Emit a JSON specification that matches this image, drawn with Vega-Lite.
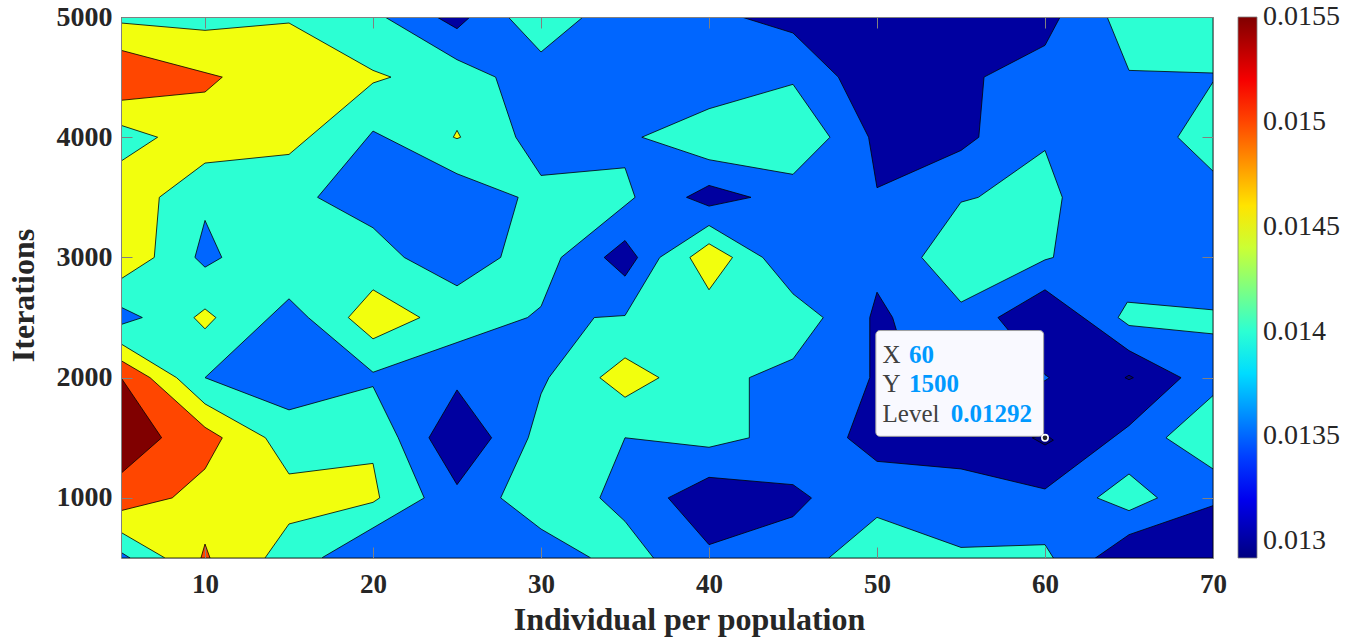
{
  "$schema": "https://vega.github.io/schema/vega-lite/v6.json",
  "width": 1092,
  "height": 541,
  "autosize": {"type": "none"},
  "padding": {"left": 121, "top": 17, "right": 145, "bottom": 83},
  "background": "white",
  "config": {"view": {"stroke": null}, "axis": {"grid": false}},
  "datasets": {
    "contours": [
      {"p":0,"lvl":0.0135,"kind":"band","k":0,"x":5,"y":500},{"p":0,"lvl":0.0135,"kind":"band","k":1,"x":70,"y":500},{"p":0,"lvl":0.0135,"kind":"band","k":2,"x":70,"y":5000},{"p":0,"lvl":0.0135,"kind":"band","k":3,"x":5,"y":5000},{"p":0,"lvl":0.0135,"kind":"band","k":4,"x":5,"y":500},

      {"p":1,"lvl":0.013,"kind":"band","k":0,"x":23.8,"y":5000},{"p":1,"lvl":0.013,"kind":"band","k":1,"x":25,"y":4903},{"p":1,"lvl":0.013,"kind":"band","k":2,"x":25.77,"y":5000},{"p":1,"lvl":0.013,"kind":"band","k":3,"x":23.8,"y":5000},

      {"p":2,"lvl":0.013,"kind":"band","k":0,"x":41.94,"y":5000},{"p":2,"lvl":0.013,"kind":"band","k":1,"x":45,"y":4867},{"p":2,"lvl":0.013,"kind":"band","k":2,"x":47.7,"y":4500},{"p":2,"lvl":0.013,"kind":"band","k":3,"x":49.5,"y":4000},{"p":2,"lvl":0.013,"kind":"band","k":4,"x":50,"y":3580},{"p":2,"lvl":0.013,"kind":"band","k":5,"x":55,"y":3890},{"p":2,"lvl":0.013,"kind":"band","k":6,"x":56.06,"y":4000},{"p":2,"lvl":0.013,"kind":"band","k":7,"x":56.37,"y":4500},{"p":2,"lvl":0.013,"kind":"band","k":8,"x":60,"y":4764},{"p":2,"lvl":0.013,"kind":"band","k":9,"x":60.9,"y":5000},{"p":2,"lvl":0.013,"kind":"band","k":10,"x":41.94,"y":5000},

      {"p":3,"lvl":0.013,"kind":"band","k":0,"x":38.66,"y":3500},{"p":3,"lvl":0.013,"kind":"band","k":1,"x":40,"y":3599},{"p":3,"lvl":0.013,"kind":"band","k":2,"x":42.5,"y":3500},{"p":3,"lvl":0.013,"kind":"band","k":3,"x":40,"y":3427},{"p":3,"lvl":0.013,"kind":"band","k":4,"x":38.66,"y":3500},

      {"p":4,"lvl":0.013,"kind":"band","k":0,"x":33.76,"y":3000},{"p":4,"lvl":0.013,"kind":"band","k":1,"x":35,"y":3141},{"p":4,"lvl":0.013,"kind":"band","k":2,"x":35.75,"y":3000},{"p":4,"lvl":0.013,"kind":"band","k":3,"x":35,"y":2844},{"p":4,"lvl":0.013,"kind":"band","k":4,"x":33.76,"y":3000},

      {"p":5,"lvl":0.013,"kind":"band","k":0,"x":25,"y":1898},{"p":5,"lvl":0.013,"kind":"band","k":1,"x":27.06,"y":1500},{"p":5,"lvl":0.013,"kind":"band","k":2,"x":25,"y":1110},{"p":5,"lvl":0.013,"kind":"band","k":3,"x":23.33,"y":1500},{"p":5,"lvl":0.013,"kind":"band","k":4,"x":25,"y":1898},

      {"p":6,"lvl":0.013,"kind":"band","k":0,"x":37.57,"y":1000},{"p":6,"lvl":0.013,"kind":"band","k":1,"x":40,"y":1171},{"p":6,"lvl":0.013,"kind":"band","k":2,"x":45,"y":1110},{"p":6,"lvl":0.013,"kind":"band","k":3,"x":46.1,"y":1000},{"p":6,"lvl":0.013,"kind":"band","k":4,"x":45,"y":844},{"p":6,"lvl":0.013,"kind":"band","k":5,"x":40,"y":611},{"p":6,"lvl":0.013,"kind":"band","k":6,"x":37.57,"y":1000},

      {"p":7,"lvl":0.013,"kind":"band","k":0,"x":63,"y":500},{"p":7,"lvl":0.013,"kind":"band","k":1,"x":65,"y":694},{"p":7,"lvl":0.013,"kind":"band","k":2,"x":70,"y":935},{"p":7,"lvl":0.013,"kind":"band","k":3,"x":70,"y":500},{"p":7,"lvl":0.013,"kind":"band","k":4,"x":63,"y":500},

      {"p":8,"lvl":0.013,"kind":"band","k":0,"x":50,"y":2711},{"p":8,"lvl":0.013,"kind":"band","k":1,"x":50.93,"y":2500},{"p":8,"lvl":0.013,"kind":"band","k":2,"x":52,"y":2000},{"p":8,"lvl":0.013,"kind":"band","k":3,"x":55,"y":1800},{"p":8,"lvl":0.013,"kind":"band","k":4,"x":60,"y":1975},{"p":8,"lvl":0.013,"kind":"band","k":5,"x":60.26,"y":2000},{"p":8,"lvl":0.013,"kind":"band","k":6,"x":60,"y":2025},{"p":8,"lvl":0.013,"kind":"band","k":7,"x":57.2,"y":2500},{"p":8,"lvl":0.013,"kind":"band","k":8,"x":60,"y":2731},{"p":8,"lvl":0.013,"kind":"band","k":9,"x":65,"y":2225},{"p":8,"lvl":0.013,"kind":"band","k":10,"x":68.1,"y":2000},{"p":8,"lvl":0.013,"kind":"band","k":11,"x":65,"y":1601},{"p":8,"lvl":0.013,"kind":"band","k":12,"x":60,"y":1074},{"p":8,"lvl":0.013,"kind":"band","k":13,"x":55,"y":1241},{"p":8,"lvl":0.013,"kind":"band","k":14,"x":50,"y":1304},{"p":8,"lvl":0.013,"kind":"band","k":15,"x":48.24,"y":1500},{"p":8,"lvl":0.013,"kind":"band","k":16,"x":49.57,"y":2000},{"p":8,"lvl":0.013,"kind":"band","k":17,"x":49.57,"y":2500},{"p":8,"lvl":0.013,"kind":"band","k":18,"x":50,"y":2711},

      {"p":9,"lvl":0.014,"kind":"band","k":0,"x":5,"y":5000},{"p":9,"lvl":0.014,"kind":"band","k":1,"x":20.71,"y":5000},{"p":9,"lvl":0.014,"kind":"band","k":2,"x":25,"y":4645},{"p":9,"lvl":0.014,"kind":"band","k":3,"x":27.3,"y":4500},{"p":9,"lvl":0.014,"kind":"band","k":4,"x":28.5,"y":4000},{"p":9,"lvl":0.014,"kind":"band","k":5,"x":30,"y":3682},{"p":9,"lvl":0.014,"kind":"band","k":6,"x":35,"y":3746},{"p":9,"lvl":0.014,"kind":"band","k":7,"x":35.6,"y":3500},{"p":9,"lvl":0.014,"kind":"band","k":8,"x":31.2,"y":3000},{"p":9,"lvl":0.014,"kind":"band","k":9,"x":30,"y":2592},{"p":9,"lvl":0.014,"kind":"band","k":10,"x":29.2,"y":2500},{"p":9,"lvl":0.014,"kind":"band","k":11,"x":20,"y":2045},{"p":9,"lvl":0.014,"kind":"band","k":12,"x":16.15,"y":2500},{"p":9,"lvl":0.014,"kind":"band","k":13,"x":15,"y":2656},{"p":9,"lvl":0.014,"kind":"band","k":14,"x":10,"y":2000},{"p":9,"lvl":0.014,"kind":"band","k":15,"x":15,"y":1732},{"p":9,"lvl":0.014,"kind":"band","k":16,"x":20,"y":1926},{"p":9,"lvl":0.014,"kind":"band","k":17,"x":21.5,"y":1500},{"p":9,"lvl":0.014,"kind":"band","k":18,"x":23.05,"y":1000},{"p":9,"lvl":0.014,"kind":"band","k":19,"x":16.94,"y":500},{"p":9,"lvl":0.014,"kind":"band","k":20,"x":5,"y":500},{"p":9,"lvl":0.014,"kind":"band","k":21,"x":5,"y":5000},

      {"p":10,"lvl":0.014,"kind":"band","k":0,"x":28.05,"y":5000},{"p":10,"lvl":0.014,"kind":"band","k":1,"x":30,"y":4709},{"p":10,"lvl":0.014,"kind":"band","k":2,"x":32.5,"y":5000},{"p":10,"lvl":0.014,"kind":"band","k":3,"x":28.05,"y":5000},

      {"p":11,"lvl":0.014,"kind":"band","k":0,"x":36,"y":4000},{"p":11,"lvl":0.014,"kind":"band","k":1,"x":40,"y":4237},{"p":11,"lvl":0.014,"kind":"band","k":2,"x":45,"y":4440},{"p":11,"lvl":0.014,"kind":"band","k":3,"x":47.2,"y":4000},{"p":11,"lvl":0.014,"kind":"band","k":4,"x":45,"y":3691},{"p":11,"lvl":0.014,"kind":"band","k":5,"x":40,"y":3813},{"p":11,"lvl":0.014,"kind":"band","k":6,"x":36,"y":4000},

      {"p":12,"lvl":0.014,"kind":"band","k":0,"x":63.7,"y":5000},{"p":12,"lvl":0.014,"kind":"band","k":1,"x":65,"y":4556},{"p":12,"lvl":0.014,"kind":"band","k":2,"x":70,"y":4534},{"p":12,"lvl":0.014,"kind":"band","k":3,"x":70,"y":5000},{"p":12,"lvl":0.014,"kind":"band","k":4,"x":63.7,"y":5000},

      {"p":13,"lvl":0.014,"kind":"band","k":0,"x":70,"y":4459},{"p":13,"lvl":0.014,"kind":"band","k":1,"x":67.9,"y":4000},{"p":13,"lvl":0.014,"kind":"band","k":2,"x":70,"y":3718},{"p":13,"lvl":0.014,"kind":"band","k":3,"x":70,"y":4459},

      {"p":14,"lvl":0.014,"kind":"band","k":0,"x":52.66,"y":3000},{"p":14,"lvl":0.014,"kind":"band","k":1,"x":55,"y":3460},{"p":14,"lvl":0.014,"kind":"band","k":2,"x":56.03,"y":3500},{"p":14,"lvl":0.014,"kind":"band","k":3,"x":60,"y":3890},{"p":14,"lvl":0.014,"kind":"band","k":4,"x":61.03,"y":3500},{"p":14,"lvl":0.014,"kind":"band","k":5,"x":60.5,"y":3000},{"p":14,"lvl":0.014,"kind":"band","k":6,"x":60,"y":2980},{"p":14,"lvl":0.014,"kind":"band","k":7,"x":55,"y":2628},{"p":14,"lvl":0.014,"kind":"band","k":8,"x":52.66,"y":3000},

      {"p":15,"lvl":0.014,"kind":"band","k":0,"x":37.07,"y":3000},{"p":15,"lvl":0.014,"kind":"band","k":1,"x":40,"y":3266},{"p":15,"lvl":0.014,"kind":"band","k":2,"x":43.2,"y":3000},{"p":15,"lvl":0.014,"kind":"band","k":3,"x":45,"y":2697},{"p":15,"lvl":0.014,"kind":"band","k":4,"x":46.8,"y":2500},{"p":15,"lvl":0.014,"kind":"band","k":5,"x":45,"y":2156},{"p":15,"lvl":0.014,"kind":"band","k":6,"x":42.4,"y":2000},{"p":15,"lvl":0.014,"kind":"band","k":7,"x":42.4,"y":1500},{"p":15,"lvl":0.014,"kind":"band","k":8,"x":40,"y":1421},{"p":15,"lvl":0.014,"kind":"band","k":9,"x":35,"y":1500},{"p":15,"lvl":0.014,"kind":"band","k":10,"x":33.5,"y":1000},{"p":15,"lvl":0.014,"kind":"band","k":11,"x":35,"y":805},{"p":15,"lvl":0.014,"kind":"band","k":12,"x":36.7,"y":500},{"p":15,"lvl":0.014,"kind":"band","k":13,"x":32.97,"y":500},{"p":15,"lvl":0.014,"kind":"band","k":14,"x":30,"y":741},{"p":15,"lvl":0.014,"kind":"band","k":15,"x":27.6,"y":1000},{"p":15,"lvl":0.014,"kind":"band","k":16,"x":29.24,"y":1500},{"p":15,"lvl":0.014,"kind":"band","k":17,"x":30,"y":1865},{"p":15,"lvl":0.014,"kind":"band","k":18,"x":30.47,"y":2000},{"p":15,"lvl":0.014,"kind":"band","k":19,"x":33.17,"y":2500},{"p":15,"lvl":0.014,"kind":"band","k":20,"x":35,"y":2517},{"p":15,"lvl":0.014,"kind":"band","k":21,"x":37.07,"y":3000},

      {"p":16,"lvl":0.014,"kind":"band","k":0,"x":47.13,"y":500},{"p":16,"lvl":0.014,"kind":"band","k":1,"x":50,"y":838},{"p":16,"lvl":0.014,"kind":"band","k":2,"x":55,"y":588},{"p":16,"lvl":0.014,"kind":"band","k":3,"x":60,"y":611},{"p":16,"lvl":0.014,"kind":"band","k":4,"x":60.5,"y":500},{"p":16,"lvl":0.014,"kind":"band","k":5,"x":47.13,"y":500},

      {"p":17,"lvl":0.014,"kind":"band","k":0,"x":63.1,"y":1000},{"p":17,"lvl":0.014,"kind":"band","k":1,"x":65,"y":1199},{"p":17,"lvl":0.014,"kind":"band","k":2,"x":66.7,"y":1000},{"p":17,"lvl":0.014,"kind":"band","k":3,"x":65,"y":894},{"p":17,"lvl":0.014,"kind":"band","k":4,"x":63.1,"y":1000},

      {"p":18,"lvl":0.014,"kind":"band","k":0,"x":70,"y":1851},{"p":18,"lvl":0.014,"kind":"band","k":1,"x":67.2,"y":1500},{"p":18,"lvl":0.014,"kind":"band","k":2,"x":70,"y":1241},{"p":18,"lvl":0.014,"kind":"band","k":3,"x":70,"y":1851},

      {"p":19,"lvl":0.014,"kind":"band","k":0,"x":64.9,"y":2628},{"p":19,"lvl":0.014,"kind":"band","k":1,"x":64.35,"y":2500},{"p":19,"lvl":0.014,"kind":"band","k":2,"x":65,"y":2434},{"p":19,"lvl":0.014,"kind":"band","k":3,"x":70,"y":2364},{"p":19,"lvl":0.014,"kind":"band","k":4,"x":70,"y":2564},{"p":19,"lvl":0.014,"kind":"band","k":5,"x":64.9,"y":2628},

      {"p":20,"lvl":0.0135,"kind":"hole","k":0,"x":10,"y":3308},{"p":20,"lvl":0.0135,"kind":"hole","k":1,"x":11,"y":3000},{"p":20,"lvl":0.0135,"kind":"hole","k":2,"x":10,"y":2919},{"p":20,"lvl":0.0135,"kind":"hole","k":3,"x":9.4,"y":3000},{"p":20,"lvl":0.0135,"kind":"hole","k":4,"x":10,"y":3308},

      {"p":21,"lvl":0.0135,"kind":"hole","k":0,"x":20,"y":4051},{"p":21,"lvl":0.0135,"kind":"hole","k":1,"x":25,"y":3696},{"p":21,"lvl":0.0135,"kind":"hole","k":2,"x":28.64,"y":3500},{"p":21,"lvl":0.0135,"kind":"hole","k":3,"x":27.6,"y":3000},{"p":21,"lvl":0.0135,"kind":"hole","k":4,"x":25,"y":2764},{"p":21,"lvl":0.0135,"kind":"hole","k":5,"x":21.86,"y":3000},{"p":21,"lvl":0.0135,"kind":"hole","k":6,"x":20,"y":3247},{"p":21,"lvl":0.0135,"kind":"hole","k":7,"x":16.7,"y":3500},{"p":21,"lvl":0.0135,"kind":"hole","k":8,"x":20,"y":4051},

      {"p":22,"lvl":0.0135,"kind":"hole","k":0,"x":5,"y":2586},{"p":22,"lvl":0.0135,"kind":"hole","k":1,"x":6.27,"y":2500},{"p":22,"lvl":0.0135,"kind":"hole","k":2,"x":5,"y":2442},{"p":22,"lvl":0.0135,"kind":"hole","k":3,"x":5,"y":2586},

      {"p":23,"lvl":0.0135,"kind":"hole","k":0,"x":5,"y":500},{"p":23,"lvl":0.0135,"kind":"hole","k":1,"x":5.54,"y":500},{"p":23,"lvl":0.0135,"kind":"hole","k":2,"x":5,"y":547},{"p":23,"lvl":0.0135,"kind":"hole","k":3,"x":5,"y":500},

      {"p":24,"lvl":0.0145,"kind":"band","k":0,"x":5,"y":4950},{"p":24,"lvl":0.0145,"kind":"band","k":1,"x":10,"y":4889},{"p":24,"lvl":0.0145,"kind":"band","k":2,"x":15,"y":4950},{"p":24,"lvl":0.0145,"kind":"band","k":3,"x":20,"y":4556},{"p":24,"lvl":0.0145,"kind":"band","k":4,"x":21.07,"y":4500},{"p":24,"lvl":0.0145,"kind":"band","k":5,"x":20,"y":4451},{"p":24,"lvl":0.0145,"kind":"band","k":6,"x":15,"y":3857},{"p":24,"lvl":0.0145,"kind":"band","k":7,"x":10,"y":3785},{"p":24,"lvl":0.0145,"kind":"band","k":8,"x":7.28,"y":3500},{"p":24,"lvl":0.0145,"kind":"band","k":9,"x":6.98,"y":3000},{"p":24,"lvl":0.0145,"kind":"band","k":10,"x":5,"y":2822},{"p":24,"lvl":0.0145,"kind":"band","k":11,"x":5,"y":3801},{"p":24,"lvl":0.0145,"kind":"band","k":12,"x":7.18,"y":4000},{"p":24,"lvl":0.0145,"kind":"band","k":13,"x":5,"y":4099},{"p":24,"lvl":0.0145,"kind":"band","k":14,"x":5,"y":4950},

      {"p":25,"lvl":0.0145,"kind":"band","k":0,"x":5,"y":2281},{"p":25,"lvl":0.0145,"kind":"band","k":1,"x":8.31,"y":2000},{"p":25,"lvl":0.0145,"kind":"band","k":2,"x":10,"y":1782},{"p":25,"lvl":0.0145,"kind":"band","k":3,"x":13.6,"y":1500},{"p":25,"lvl":0.0145,"kind":"band","k":4,"x":15,"y":1199},{"p":25,"lvl":0.0145,"kind":"band","k":5,"x":20,"y":1287},{"p":25,"lvl":0.0145,"kind":"band","k":6,"x":20.4,"y":1000},{"p":25,"lvl":0.0145,"kind":"band","k":7,"x":20,"y":963},{"p":25,"lvl":0.0145,"kind":"band","k":8,"x":15,"y":783},{"p":25,"lvl":0.0145,"kind":"band","k":9,"x":13.57,"y":500},{"p":25,"lvl":0.0145,"kind":"band","k":10,"x":7.62,"y":500},{"p":25,"lvl":0.0145,"kind":"band","k":11,"x":5,"y":713},{"p":25,"lvl":0.0145,"kind":"band","k":12,"x":5,"y":2281},

      {"p":26,"lvl":0.0145,"kind":"band","k":0,"x":25,"y":4057},{"p":26,"lvl":0.0145,"kind":"band","k":1,"x":25.22,"y":4000},{"p":26,"lvl":0.0145,"kind":"band","k":2,"x":25,"y":3988},{"p":26,"lvl":0.0145,"kind":"band","k":3,"x":24.78,"y":4000},{"p":26,"lvl":0.0145,"kind":"band","k":4,"x":25,"y":4057},

      {"p":27,"lvl":0.0145,"kind":"band","k":0,"x":10,"y":2572},{"p":27,"lvl":0.0145,"kind":"band","k":1,"x":10.65,"y":2500},{"p":27,"lvl":0.0145,"kind":"band","k":2,"x":10,"y":2406},{"p":27,"lvl":0.0145,"kind":"band","k":3,"x":9.34,"y":2500},{"p":27,"lvl":0.0145,"kind":"band","k":4,"x":10,"y":2572},

      {"p":28,"lvl":0.0145,"kind":"band","k":0,"x":20,"y":2731},{"p":28,"lvl":0.0145,"kind":"band","k":1,"x":22.8,"y":2500},{"p":28,"lvl":0.0145,"kind":"band","k":2,"x":20,"y":2323},{"p":28,"lvl":0.0145,"kind":"band","k":3,"x":18.53,"y":2500},{"p":28,"lvl":0.0145,"kind":"band","k":4,"x":20,"y":2731},

      {"p":29,"lvl":0.0145,"kind":"band","k":0,"x":38.86,"y":3000},{"p":29,"lvl":0.0145,"kind":"band","k":1,"x":40,"y":3114},{"p":29,"lvl":0.0145,"kind":"band","k":2,"x":41.4,"y":3000},{"p":29,"lvl":0.0145,"kind":"band","k":3,"x":40,"y":2731},{"p":29,"lvl":0.0145,"kind":"band","k":4,"x":38.86,"y":3000},

      {"p":30,"lvl":0.0145,"kind":"band","k":0,"x":33.5,"y":2000},{"p":30,"lvl":0.0145,"kind":"band","k":1,"x":35,"y":2165},{"p":30,"lvl":0.0145,"kind":"band","k":2,"x":37.03,"y":2000},{"p":30,"lvl":0.0145,"kind":"band","k":3,"x":35,"y":1837},{"p":30,"lvl":0.0145,"kind":"band","k":4,"x":33.5,"y":2000},

      {"p":31,"lvl":0.015,"kind":"band","k":0,"x":5,"y":4723},{"p":31,"lvl":0.015,"kind":"band","k":1,"x":11.03,"y":4500},{"p":31,"lvl":0.015,"kind":"band","k":2,"x":10,"y":4376},{"p":31,"lvl":0.015,"kind":"band","k":3,"x":5,"y":4307},{"p":31,"lvl":0.015,"kind":"band","k":4,"x":5,"y":4723},

      {"p":32,"lvl":0.015,"kind":"band","k":0,"x":5,"y":2142},{"p":32,"lvl":0.015,"kind":"band","k":1,"x":6.73,"y":2000},{"p":32,"lvl":0.015,"kind":"band","k":2,"x":10,"y":1587},{"p":32,"lvl":0.015,"kind":"band","k":3,"x":11.03,"y":1500},{"p":32,"lvl":0.015,"kind":"band","k":4,"x":10,"y":1241},{"p":32,"lvl":0.015,"kind":"band","k":5,"x":8.05,"y":1000},{"p":32,"lvl":0.015,"kind":"band","k":6,"x":5,"y":894},{"p":32,"lvl":0.015,"kind":"band","k":7,"x":5,"y":2142},

      {"p":33,"lvl":0.015,"kind":"band","k":0,"x":9.76,"y":500},{"p":33,"lvl":0.015,"kind":"band","k":1,"x":10,"y":616},{"p":33,"lvl":0.015,"kind":"band","k":2,"x":10.3,"y":500},{"p":33,"lvl":0.015,"kind":"band","k":3,"x":9.76,"y":500},

      {"p":34,"lvl":0.0155,"kind":"band","k":0,"x":5,"y":2000},{"p":34,"lvl":0.0155,"kind":"band","k":1,"x":7.42,"y":1500},{"p":34,"lvl":0.0155,"kind":"band","k":2,"x":5,"y":1204},{"p":34,"lvl":0.0155,"kind":"band","k":3,"x":5,"y":2000},

      {"p":35,"lvl":0.01292,"kind":"band","k":0,"x":64.76,"y":2000},{"p":35,"lvl":0.01292,"kind":"band","k":1,"x":65,"y":2020},{"p":35,"lvl":0.01292,"kind":"band","k":2,"x":65.26,"y":2000},{"p":35,"lvl":0.01292,"kind":"band","k":3,"x":65,"y":1983},{"p":35,"lvl":0.01292,"kind":"band","k":4,"x":64.76,"y":2000},

      {"p":36,"lvl":0.01292,"kind":"band","k":0,"x":59.24,"y":1500},{"p":36,"lvl":0.01292,"kind":"band","k":1,"x":60,"y":1530},{"p":36,"lvl":0.01292,"kind":"band","k":2,"x":60.5,"y":1480},{"p":36,"lvl":0.01292,"kind":"band","k":3,"x":60,"y":1440},{"p":36,"lvl":0.01292,"kind":"band","k":4,"x":59.24,"y":1500}
    ],
    "tip": [{"X": 60, "Y": 1500, "Level": 0.01292}]
  },
  "resolve": {"axis": {"x": "independent", "y": "independent"}},
  "layer": [
    {
      "data": {"name": "contours"},
      "encoding": {
        "x": {
          "field": "x", "type": "quantitative",
          "scale": {"domain": [5, 70], "nice": false, "zero": false},
          "axis": {
            "orient": "bottom", "values": [10, 20, 30, 40, 50, 60, 70], "format": "d",
            "title": "Individual per population",
            "labelFont": "Liberation Serif", "labelFontSize": 27, "labelFontWeight": "bold", "labelColor": "#262626",
            "labelPadding": 24, "labelFlush": false, "labelBound": false,
            "tickSize": -11, "tickColor": "#808080", "tickWidth": 1,
            "domainColor": "#808080", "domainWidth": 1,
            "titleFont": "Liberation Serif", "titleFontSize": 32, "titleFontWeight": "bold", "titleColor": "#262626",
            "titleX": 568, "titleY": 71, "titleAlign": "center", "titleBaseline": "alphabetic",
            "grid": false, "zindex": 1
          }
        },
        "y": {
          "field": "y", "type": "quantitative",
          "scale": {"domain": [500, 5000], "nice": false, "zero": false},
          "axis": {
            "orient": "left", "values": [1000, 2000, 3000, 4000, 5000], "format": "d",
            "title": "Iterations",
            "labelFont": "Liberation Serif", "labelFontSize": 28, "labelFontWeight": "bold", "labelColor": "#262626",
            "labelPadding": 20, "labelFlush": false, "labelBound": false,
            "tickSize": -11, "tickColor": "#808080", "tickWidth": 1,
            "domainColor": "#808080", "domainWidth": 1,
            "titleFont": "Liberation Serif", "titleFontSize": 32, "titleFontWeight": "bold", "titleColor": "#262626",
            "titleX": -88, "titleY": 278, "titleAngle": 270, "titleAlign": "center", "titleBaseline": "alphabetic",
            "grid": false, "zindex": 1
          }
        },
        "fill": {
          "field": "lvl", "type": "quantitative",
          "scale": {
            "domain": [0.01292, 0.0132425, 0.0138875, 0.0145325, 0.0151775, 0.0155],
            "range": ["#000080", "#0000ff", "#00ffff", "#ffff00", "#ff0000", "#800000"],
            "interpolate": "rgb"
          },
          "legend": {
            "orient": "right", "offset": 24, "padding": 0, "title": null, "direction": "vertical",
            "gradientLength": 541, "gradientThickness": 19,
            "gradientStrokeColor": "#808080", "gradientStrokeWidth": 0.8,
            "values": [0.013, 0.0135, 0.014, 0.0145, 0.015, 0.0155], "format": "~g",
            "labelFont": "Liberation Serif", "labelFontSize": 28, "labelColor": "#262626",
            "labelOffset": 6, "labelOverlap": false, "labelLimit": 200,
            "encode": {"labels": {"update": {"baseline": {"value": "middle"}}}}
          }
        },
        "detail": {"field": "p", "type": "nominal"},
        "order": {"field": "k", "type": "quantitative"}
      },
      "layer": [
        {"transform": [{"filter": "datum.lvl == 0.0135 && datum.kind == 'band'"}],
         "mark": {"type": "line", "stroke": "black", "strokeWidth": 0.8, "clip": true}},
        {"transform": [{"filter": "datum.lvl == 0.013"}],
         "mark": {"type": "line", "stroke": "black", "strokeWidth": 0.8, "clip": true}},
        {"transform": [{"filter": "datum.lvl == 0.014"}],
         "mark": {"type": "line", "stroke": "black", "strokeWidth": 0.8, "clip": true}},
        {"transform": [{"filter": "datum.lvl == 0.0135 && datum.kind == 'hole'"}],
         "mark": {"type": "line", "stroke": "black", "strokeWidth": 0.8, "clip": true}},
        {"transform": [{"filter": "datum.lvl == 0.0145"}],
         "mark": {"type": "line", "stroke": "black", "strokeWidth": 0.8, "clip": true}},
        {"transform": [{"filter": "datum.lvl == 0.015"}],
         "mark": {"type": "line", "stroke": "black", "strokeWidth": 0.8, "clip": true}},
        {"transform": [{"filter": "datum.lvl == 0.0155"}],
         "mark": {"type": "line", "stroke": "black", "strokeWidth": 0.8, "clip": true}},
        {"transform": [{"filter": "datum.lvl == 0.01292"}],
         "mark": {"type": "line", "stroke": "black", "strokeWidth": 0.8, "clip": true}}
      ]
    },
    {
      "data": {"name": "tip"},
      "mark": {"type": "rect", "fill": "#f9f9ff", "stroke": "#a0a0a0", "strokeWidth": 1, "cornerRadius": 4},
      "encoding": {
        "x": {"datum": 49.93, "type": "quantitative", "axis": null},
        "x2": {"datum": 59.92},
        "y": {"datum": 1512, "type": "quantitative", "axis": null},
        "y2": {"datum": 2392}
      }
    },
    {
      "data": {"name": "tip"},
      "mark": {"type": "text", "font": "Liberation Serif", "fontSize": 25, "color": "#404040", "align": "left", "baseline": "middle"},
      "encoding": {"x": {"datum": 50.33, "type": "quantitative", "axis": null}, "y": {"datum": 2192, "type": "quantitative", "axis": null}, "text": {"value": "X"}}
    },
    {
      "data": {"name": "tip"},
      "mark": {"type": "text", "font": "Liberation Serif", "fontSize": 25, "color": "#404040", "align": "left", "baseline": "middle"},
      "encoding": {"x": {"datum": 50.33, "type": "quantitative", "axis": null}, "y": {"datum": 1951, "type": "quantitative", "axis": null}, "text": {"value": "Y"}}
    },
    {
      "data": {"name": "tip"},
      "mark": {"type": "text", "font": "Liberation Serif", "fontSize": 25, "color": "#404040", "align": "left", "baseline": "middle"},
      "encoding": {"x": {"datum": 50.33, "type": "quantitative", "axis": null}, "y": {"datum": 1701, "type": "quantitative", "axis": null}, "text": {"value": "Level"}}
    },
    {
      "data": {"name": "tip"},
      "mark": {"type": "text", "font": "Liberation Serif", "fontSize": 25, "fontWeight": "bold", "color": "#0099ff", "align": "left", "baseline": "middle"},
      "encoding": {"x": {"datum": 51.91, "type": "quantitative", "axis": null}, "y": {"datum": 2192, "type": "quantitative", "axis": null}, "text": {"field": "X", "type": "quantitative", "format": "d"}}
    },
    {
      "data": {"name": "tip"},
      "mark": {"type": "text", "font": "Liberation Serif", "fontSize": 25, "fontWeight": "bold", "color": "#0099ff", "align": "left", "baseline": "middle"},
      "encoding": {"x": {"datum": 51.91, "type": "quantitative", "axis": null}, "y": {"datum": 1951, "type": "quantitative", "axis": null}, "text": {"field": "Y", "type": "quantitative", "format": "d"}}
    },
    {
      "data": {"name": "tip"},
      "mark": {"type": "text", "font": "Liberation Serif", "fontSize": 25, "fontWeight": "bold", "color": "#0099ff", "align": "left", "baseline": "middle"},
      "encoding": {"x": {"datum": 54.39, "type": "quantitative", "axis": null}, "y": {"datum": 1701, "type": "quantitative", "axis": null}, "text": {"field": "Level", "type": "quantitative", "format": ".5f"}}
    },
    {
      "data": {"name": "tip"},
      "mark": {"type": "point", "shape": "circle", "filled": true, "size": 40, "color": "#262626", "stroke": "white", "strokeWidth": 1.6, "opacity": 1},
      "encoding": {
        "x": {
          "field": "X", "type": "quantitative",
          "scale": {"domain": [5, 70], "nice": false, "zero": false},
          "axis": {"orient": "top", "values": [10, 20, 30, 40, 50, 60, 70], "labels": false, "title": null,
                   "tickSize": -11, "tickColor": "#808080", "tickWidth": 1, "domainColor": "#808080", "domainWidth": 1,
                   "grid": false, "zindex": 1}
        },
        "y": {
          "field": "Y", "type": "quantitative",
          "scale": {"domain": [500, 5000], "nice": false, "zero": false},
          "axis": {"orient": "right", "values": [1000, 2000, 3000, 4000, 5000], "labels": false, "title": null,
                   "tickSize": -11, "tickColor": "#808080", "tickWidth": 1, "domainColor": "#808080", "domainWidth": 1,
                   "grid": false, "zindex": 1}
        }
      }
    }
  ]
}
